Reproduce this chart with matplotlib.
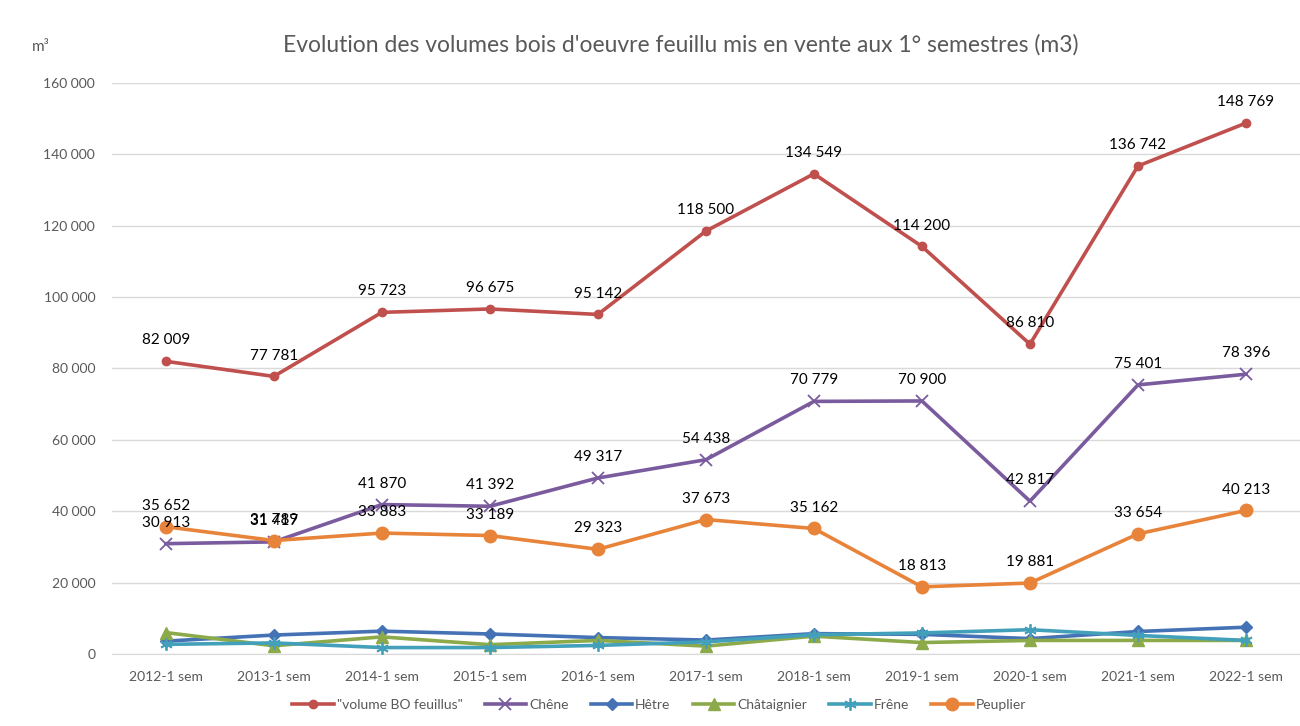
import numpy as np
import matplotlib.pyplot as plt

plt.rcParams['font.family'] = ['Lato', 'DejaVu Sans']

# Data
annees = ["2012-1 sem", "2013-1 sem", "2014-1 sem", "2015-1 sem", "2016-1 sem", "2017-1 sem",
          "2018-1 sem", "2019-1 sem", "2020-1 sem", "2021-1 sem", "2022-1 sem"]
volume_bo = [82009, 77781, 95723, 96675, 95142, 118500, 134549, 114200, 86810, 136742, 148769]
chene = [30913, 31417, 41870, 41392, 49317, 54438, 70779, 70900, 42817, 75401, 78396]
hetre = [3600, 5300, 6400, 5600, 4600, 3900, 5700, 5500, 4300, 6300, 7500]
chataignier = [6000, 2300, 4800, 2600, 3800, 2200, 5000, 3200, 3800, 3800, 3800]
frene = [2700, 3100, 1800, 1800, 2400, 3400, 5400, 5900, 6800, 5200, 3800]
peuplier = [35652, 31789, 33883, 33189, 29323, 37673, 35162, 18813, 19881, 33654, 40213]

def fmt(v):
    return f"{v:,.0f}".replace(",", " ")

fig = plt.figure(figsize=(13, 7.26), dpi=100)
ax = fig.add_axes([0.086, 0.0992, 0.914, 0.7865])

x = np.arange(len(annees))
ax.plot(x, volume_bo, color='#C0504D', lw=2.6, marker='o', ms=6, label='"volume BO feuillus"', zorder=5)
ax.plot(x, chene, color='#7A5B9E', lw=2.6, marker='x', ms=9, mew=1.3, label='Chêne', zorder=4)
ax.plot(x, hetre, color='#4472B4', lw=2.6, marker='D', ms=6, label='Hêtre', zorder=3)
ax.plot(x, chataignier, color='#8CAA4A', lw=2.6, marker='^', ms=8, label='Châtaignier', zorder=3)
ax.plot(x, frene, color='#43A0BA', lw=2.6, marker=(6, 2, 0), ms=9, mew=1.3, label='Frêne', zorder=3)
ax.plot(x, peuplier, color='#E8833A', lw=2.6, marker='o', ms=9, label='Peuplier', zorder=4)

for serie in (volume_bo, chene, peuplier):
    for xi, v in zip(x, serie):
        ax.annotate(fmt(v), (xi, v), xytext=(0, 10), textcoords='offset points',
                    ha='center', va='bottom', fontsize=11, color='black', zorder=6)

ax.set_xlim(-0.5, len(annees) - 0.5)
ax.set_ylim(0, 160000)
ax.set_yticks(np.arange(0, 160001, 20000))
ax.set_yticklabels([fmt(v) for v in np.arange(0, 160001, 20000)])
ax.set_xticks(x)
ax.set_xticklabels(annees)
ax.tick_params(axis='both', length=0, labelsize=10, colors='#595959')
ax.tick_params(axis='x', pad=12)
ax.tick_params(axis='y', pad=12)
ax.grid(axis='y', color='#D9D9D9', lw=1)
ax.set_axisbelow(True)
for s in ('top', 'right', 'left'):
    ax.spines[s].set_visible(False)
ax.spines['bottom'].set_color('#D9D9D9')

fig.text(0.524, 0.938, "Evolution des volumes bois d'oeuvre feuillu mis en vente aux 1° semestres (m3)",
         ha='center', va='center', fontsize=16.5, color='#595959')
fig.text(0.031, 0.935, "m³", ha='center', va='center', fontsize=11, color='#595959')

fig.legend(loc='center', bbox_to_anchor=(0.507, 0.029), ncol=6, frameon=False, fontsize=10,
           handlelength=3, handletextpad=0.2, columnspacing=1.6, labelcolor='#595959')

fig.savefig('out.png', dpi=100)
